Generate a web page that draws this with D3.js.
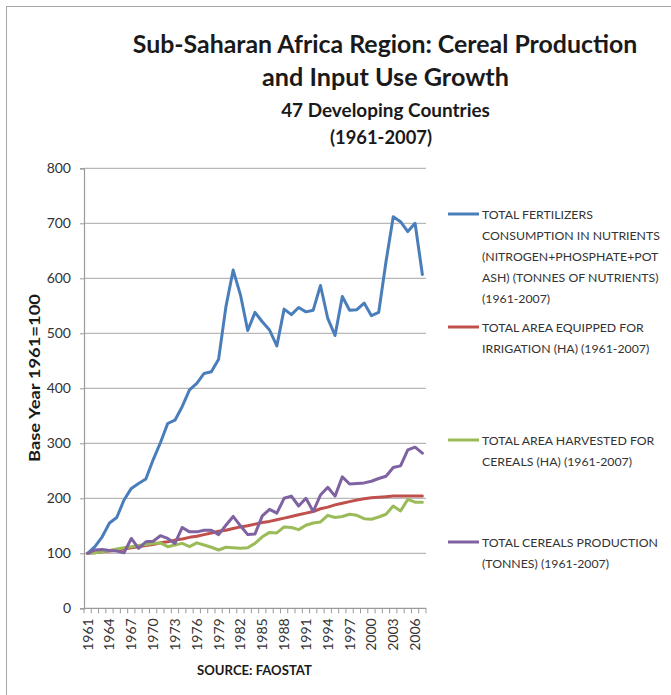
<!DOCTYPE html>
<html><head><meta charset="utf-8">
<script src="https://cdn.jsdelivr.net/npm/d3@7"></script>
<style>body{margin:0;background:#fff}svg{display:block}text{font-family:Lato,"Open Sans",sans-serif}</style>
</head><body>
<svg id="c" width="671" height="695"></svg>
<script>
const years = d3.range(1961, 2008);
const fertilizers = [100,112,130,155,165,197,218,227,235,270,301,336,342,367,397,409,427,430,453,548,615,570,505,538,521,506,477,544,534,547,539,542,587,527,496,567,542,543,555,532,538,630,712,703,685,700,607];
const irrigation = [100,101,103,104,106,108,110,112,114,116,119,121,124,126,129,131,134,137,140,142,145,148,150,153,156,158,161,164,167,170,173,176,181,184,188,191,194,197,199,201,202,203,204,204,204,204,204];
const harvested = [100,101,103,105,108,110,112,114,116,118,119,112,115,118,112,119,115,111,106,111,110,109,110,118,130,138,137,148,147,143,151,155,157,169,165,167,171,169,163,162,166,171,186,177,198,193,193];
const production = [100,106,107,105,104,101,127,109,121,122,132,127,118,147,139,139,142,142,134,151,167,150,134,135,168,180,173,200,204,186,200,176,206,220,204,239,226,227,228,231,236,240,256,259,288,293,282];
const yTicks = [0,100,200,300,400,500,600,700,800];
const xTickLabels = years.filter((d,i)=> i%3===0);
const seriesNames = [
  ["TOTAL FERTILIZERS","CONSUMPTION IN NUTRIENTS","(NITROGEN+PHOSPHATE+POT","ASH) (TONNES OF NUTRIENTS)","(1961-2007)"],
  ["TOTAL AREA EQUIPPED FOR","IRRIGATION (HA) (1961-2007)"],
  ["TOTAL AREA HARVESTED FOR","CEREALS (HA) (1961-2007)"],
  ["TOTAL CEREALS PRODUCTION","(TONNES) (1961-2007)"]
];
const titleLines = ["Sub-Saharan Africa Region: Cereal Production","and Input Use Growth"];
const subtitleLines = ["47 Developing Countries","(1961-2007)"];

const colors = ["#4a7ebb","#c0504d","#9bbb59","#7f62a1"];
const series = [fertilizers, irrigation, harvested, production];

const svg = d3.select("#c");
// frame
svg.append("rect").attr("x",6.5).attr("y",6.5).attr("width",700).attr("height",700)
  .attr("fill","none").attr("stroke","#a6a6a6").attr("stroke-width",1);

const L=84, R=426, T=168.3, B=608.3;
const x = d3.scaleBand().domain(years).range([L,R]).padding(0);
const y = d3.scaleLinear().domain([0,800]).range([B,T]);

// gridlines
svg.append("g").selectAll("line").data(yTicks.filter(d=>d>0)).join("line")
  .attr("x1",L).attr("x2",R).attr("y1",d=>y(d)).attr("y2",d=>y(d))
  .attr("stroke","#b8b8b8").attr("stroke-width",1.2);

// y axis
const ya = svg.append("g").attr("transform",`translate(${L},0)`).call(d3.axisLeft(y).tickValues(yTicks).tickSize(4).tickPadding(9));
ya.select(".domain").attr("stroke","#9a9a9a").attr("stroke-width",1.2);
ya.selectAll(".tick line").attr("stroke","#9a9a9a");
ya.selectAll("text").attr("font-size",14).attr("fill","#333").attr("font-family","Lato, sans-serif");

// x axis baseline and ticks at category boundaries
svg.append("line").attr("x1",L).attr("x2",R).attr("y1",B).attr("y2",B).attr("stroke","#9a9a9a").attr("stroke-width",1.2);
const bounds = years.map(d=>x(d)).concat([R]);
svg.append("g").selectAll("line").data(bounds).join("line")
  .attr("x1",d=>d).attr("x2",d=>d).attr("y1",B).attr("y2",B+5).attr("stroke","#9a9a9a");
svg.append("g").selectAll("text").data(xTickLabels).join("text")
  .attr("transform",d=>`translate(${x(d)+x.bandwidth()/2+5},${B+10}) rotate(-90)`)
  .attr("text-anchor","end").attr("font-size",14).attr("fill","#333").text(d=>d);

// lines
const line = d3.line().x((d,i)=>x(years[i])+x.bandwidth()/2).y(d=>y(d));
series.forEach((s,k)=>{
  svg.append("path").datum(s).attr("d",line).attr("fill","none")
    .attr("stroke",colors[k]).attr("stroke-width",3).attr("stroke-linejoin","round").attr("stroke-linecap","round");
});

// fit text to a target width by adjusting font size
function fitText(t, w, fs0){
  t.attr("font-size",fs0);
  const m = t.node().getComputedTextLength();
  t.attr("font-size", fs0*w/m);
}
const tl = [[titleLines[0],385,53,27,505],[titleLines[1],385.5,86,27,247]];
tl.forEach(([s,cx,by,fs,w])=>{
  const t=svg.append("text").attr("x",cx).attr("y",by).attr("text-anchor","middle").attr("font-weight","bold").attr("fill","#1a1a1a").text(s);
  fitText(t,w,fs);
});
const sl = [[subtitleLines[0],385.5,117,19,209],[subtitleLines[1],381,144,19,102]];
sl.forEach(([s,cx,by,fs,w])=>{
  const t=svg.append("text").attr("x",cx).attr("y",by).attr("text-anchor","middle").attr("font-weight","bold").attr("fill","#1a1a1a").text(s);
  fitText(t,w,fs);
});

// y axis title
svg.append("text").attr("transform","translate(40,378) rotate(-90)").attr("text-anchor","middle")
  .attr("font-size",14.5).attr("font-weight","bold").attr("fill","#1a1a1a")
  .attr("textLength",168).attr("lengthAdjust","spacingAndGlyphs").text("Base Year 1961=100");

// source
const st = svg.append("text").attr("x",254.5).attr("y",675).attr("text-anchor","middle").attr("font-weight","bold").attr("fill","#1a1a1a").text("SOURCE: FAOSTAT");
fitText(st,115,14);

// legend
const legY = [214,327,440,542];
const probe = svg.append("text").attr("font-size",14).text("CONSUMPTION IN NUTRIENTS");
const pw = probe.node().getComputedTextLength(); probe.remove();
const lfs = 14*178/pw;
seriesNames.forEach((lines,k)=>{
  svg.append("line").attr("x1",448).attr("x2",479).attr("y1",legY[k]).attr("y2",legY[k]).attr("stroke",colors[k]).attr("stroke-width",3);
  lines.forEach((s,j)=>{
    svg.append("text").attr("x",482).attr("y",legY[k]+5+j*21).attr("font-size",lfs).attr("fill","#333").text(s);
  });
});
</script>
</body></html>
